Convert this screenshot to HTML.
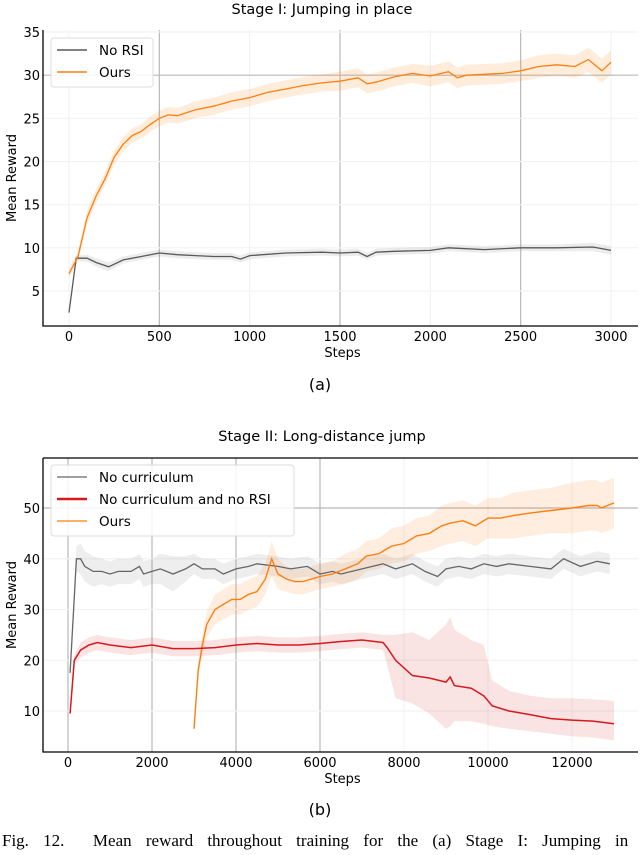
<!DOCTYPE html>
<html><head><meta charset="utf-8">
<style>
body{margin:0;background:#fff;width:640px;height:855px;overflow:hidden;position:relative;font-family:"DejaVu Sans","Liberation Sans",sans-serif}
svg{position:absolute;left:0;top:0}
.cap{position:absolute;left:2px;top:831px;font-family:"Liberation Serif",serif;font-size:17px;white-space:nowrap;word-spacing:10px}
</style></head><body>
<svg id="chart" width="640" height="855" xmlns="http://www.w3.org/2000/svg"></svg>
<div class="cap">Fig. 12.&nbsp;&nbsp;Mean reward throughout training for the (a) Stage I: Jumping in</div>
<script>
// ---- Chart A data ----
const aX = [0,50,100,150,200,250,300,350,400,450,500,550,600,700,800,900,1000,1100,1200,1300,1400,1500,1600,1650,1700,1800,1900,2000,2100,2150,2200,2300,2400,2500,2600,2700,2800,2875,2950,3000];
const aOurs = [7,9,13.5,16,18,20.5,22,23,23.5,24.3,25,25.4,25.3,26,26.4,27,27.4,28,28.4,28.8,29.1,29.3,29.7,29,29.2,29.8,30.2,29.9,30.4,29.7,30,30.1,30.2,30.5,31,31.2,31,31.8,30.5,31.5];
const aOursBand = [0.5,0.6,0.8,0.8,0.8,0.8,0.8,0.8,0.8,0.9,0.9,0.9,0.9,1,1,1,1,1,1,1,1,1.1,1.1,1.1,1.1,1.1,1.1,1.2,1.2,1.2,1.2,1.2,1.2,1.2,1.3,1.3,1.3,1.4,1.4,1.4];
const aNoX = [0,40,100,150,220,300,400,500,600,700,800,900,950,1000,1200,1400,1500,1600,1650,1700,1800,2000,2100,2300,2500,2700,2900,3000];
const aNo = [2.5,8.8,8.8,8.3,7.8,8.6,9,9.4,9.2,9.1,9.0,9.0,8.7,9.1,9.4,9.5,9.4,9.5,9.0,9.5,9.6,9.7,10,9.8,10,10,10.1,9.7];
const aNoBand = [0.2,0.3,0.4,0.5,0.5,0.4,0.4,0.4,0.4,0.4,0.4,0.4,0.4,0.4,0.4,0.4,0.4,0.4,0.4,0.4,0.4,0.4,0.4,0.4,0.4,0.4,0.5,0.5];
const aXTicks = [0,500,1000,1500,2000,2500,3000];
const aYTicks = [5,10,15,20,25,30,35];
// ---- Chart B data ----
const bNcX = [50,200,300,400,600,800,1000,1200,1500,1700,1800,2000,2200,2500,2800,3000,3200,3500,3700,4000,4300,4500,5000,5300,5700,6000,6300,6500,7000,7500,7800,8200,8500,8800,9000,9300,9600,9900,10200,10500,11000,11500,11800,12200,12600,12900];
const bNc = [17.5,40,40,38.5,37.5,37.5,37,37.5,37.5,38.5,37,37.5,38,37,38,39,38,38,37,38,38.5,39,38.5,38,38.5,37,37.5,37,38,39,38,39,37.5,36.5,38,38.5,38,39,38.5,39,38.5,38,40,38.5,39.5,39];
const bNcBand = [1,2.5,3,3,3,2.5,2.5,2.5,2.5,2.5,2.5,2.5,3,3.5,2.5,2,2,2,2,2,2,2,2,2,2,2,2,2,2,2,2,2,2,2,2,2,2,2,2,2,2,2,2,2,2,2];
const bRedX = [50,150,300,500,700,1000,1500,2000,2500,3000,3500,4000,4500,5000,5500,6000,6500,7000,7500,7600,7800,8200,8600,9000,9100,9200,9600,9900,10100,10500,11000,11500,12000,12500,13000];
const bRed = [9.5,20,22,23,23.5,23,22.5,23,22.3,22.3,22.5,23,23.3,23,23,23.3,23.7,24,23.5,22.5,20,17,16.5,15.7,16.7,15,14.5,13,11,10,9.3,8.5,8.2,8,7.5];
const bRedHi = [10,21,23.5,24.5,25,24.5,24,24.5,23.8,23.8,24,24.5,24.8,24.5,24.5,24.8,25.2,25.5,25,25,25,25.5,24,27,28.5,26,24,23,16,14,13,12.5,12.5,12.3,12];
const bRedLo = [9,19,20.5,21.5,22,21.5,21,21.5,20.8,20.8,21,21.5,21.8,21.5,21.5,21.8,22.2,22.5,22,19,12.5,11.5,9.5,6.5,7,8,8,7.5,7,6.5,6,5.5,5,4.8,4.2];
const bOursX = [3000,3100,3200,3300,3500,3700,3900,4100,4300,4500,4700,4850,5000,5200,5400,5600,5800,6000,6300,6600,6900,7100,7400,7700,8000,8300,8600,8900,9100,9400,9700,10000,10300,10600,11000,11500,12000,12400,12600,12700,13000];
const bOurs = [6.5,18,23,27,30,31,32,32,33,33.5,36,40,37,36,35.5,35.5,36,36.5,37,38,39,40.5,41,42.5,43,44.5,45,46.5,47,47.5,46.5,48,48,48.5,49,49.5,50,50.5,50.5,50,51];
const bOursBand = [0.5,1.5,2,2.5,3,3,3,3,3,3,3,3.5,3,2.5,2.5,2.5,2.5,2.5,2.5,3,3,3,3,3.5,3.5,3.5,3.5,4,4,4,4,4,4,4.5,4.5,4.5,5,5,5,5,5];
const bXTicks = [0,2000,4000,6000,8000,10000,12000];
const bYTicks = [10,20,30,40,50];

const NS='http://www.w3.org/2000/svg';
const svg=document.getElementById('chart');
function mk(tag,attrs,parent){const e=document.createElementNS(NS,tag);for(const k in attrs)e.setAttribute(k,attrs[k]);(parent||svg).appendChild(e);return e;}
function txt(x,y,s,size,anchor,parent,rot){const t=mk('text',{x:x,y:y,'font-size':size,'text-anchor':anchor||'middle',fill:'#000','font-family':'DejaVu Sans, Liberation Sans, sans-serif'},parent);if(rot)t.setAttribute('transform',rot);t.textContent=s;return t;}

function chart(c){
  const g=mk('g',{});
  
  
  const sx=v=>c.x0px+(v-c.x0)*(c.x1px-c.x0px)/(c.x1-c.x0);
  const sy=v=>c.y0px+(v-c.y0)*(c.y1px-c.y0px)/(c.y1-c.y0);
  c.xt.forEach(v=>{const l=mk('line',{x1:sx(v),x2:sx(v),y1:c.top,y2:c.bot,stroke:c.xStrong.includes(v)?'#b8b8b8':'#f2f2f2','stroke-width':1.2},g);
    });
  c.yt.forEach(v=>{const l=mk('line',{x1:c.left,x2:c.right,y1:sy(v),y2:sy(v),stroke:c.yStrong.includes(v)?'#b8b8b8':'#f2f2f2','stroke-width':1.2},g);
    });
  c.series.forEach(s=>{
    let d='';
    s.x.forEach((v,i)=>{d+=(i?'L':'M')+sx(v).toFixed(1)+','+sy(s.hi[i]).toFixed(1);});
    for(let i=s.x.length-1;i>=0;i--)d+='L'+sx(s.x[i]).toFixed(1)+','+sy(s.lo[i]).toFixed(1);
    const b=mk('path',{d:d+'Z',fill:s.band,stroke:'none'},g);
    
  });
  c.series.forEach(s=>{
    const pts=s.x.map((v,i)=>sx(v).toFixed(1)+','+sy(s.y[i]).toFixed(1)).join(' ');
    const p=mk('polyline',{points:pts,fill:'none',stroke:s.color,'stroke-width':s.w},g);
    
  });
  const ax=mk('path',{d:`M${c.left},${c.top}V${c.bot}H${c.right}`,fill:'none',stroke:'#000','stroke-width':1.3},g);
  
  if(c.topSpine){const t=mk('line',{x1:c.left,x2:c.right,y1:c.top,y2:c.top,stroke:'#000','stroke-width':1.3},g);
    }
  c.xt.forEach(v=>{const t=txt(sx(v),c.bot+15,String(v),13,'middle',g);});
  c.yt.forEach(v=>{const t=txt(c.left-3,sy(v)+5,String(v),13,'end',g);});
  let t=txt((c.left+c.right)/2+2,c.bot+31,'Steps',13,'middle',g);
  t=txt(16,(c.top+c.bot)/2,'Mean Reward',13,'middle',g,`rotate(-90 16 ${(c.top+c.bot)/2})`);
  t=txt(322,c.titleY,c.title,14.5,'middle',g);
  t=txt(320,c.subY,c.sub,16,'middle',g);
  const L=c.legend;
  const lg=mk('g',{},g);
  mk('rect',{x:L.x,y:L.y,width:L.w,height:L.h,rx:3,fill:'#fff','fill-opacity':0.85,stroke:'#ddd'},lg);
  c.series.slice().sort((a,b)=>a.li-b.li).forEach((s,i)=>{
    const yy=L.y+12+i*22;
    const e=mk('g',{},lg);
    mk('line',{x1:L.x+6,x2:L.x+36,y1:yy,y2:yy,stroke:s.color,'stroke-width':s.lw},e);
    txt(L.x+48,yy+5,s.label,13.5,'start',e);
  });
}
const band=(y,b,s)=>y.map((v,i)=>v+s*b[i]);
chart({name:'chart-stage-1',x0:0,x1:3000,x0px:69,x1px:611,y0:5,y1:35,y0px:291,y1px:32,left:43,right:638,top:30,bot:326,
  xt:aXTicks,yt:aYTicks,xStrong:[500,1500,2500],yStrong:[30],titleY:14,title:'Stage I: Jumping in place',subY:390,sub:'(a)',topSpine:false,
  legend:{x:51,y:38,w:102,h:49},
  series:[
    {id:'no-rsi',label:'No RSI',x:aNoX,y:aNo,hi:band(aNo,aNoBand,1),lo:band(aNo,aNoBand,-1),color:'#595959',band:'rgba(150,150,150,0.18)',w:1.3,lw:1.5,li:0},
    {id:'ours',label:'Ours',x:aX,y:aOurs,hi:band(aOurs,aOursBand,1),lo:band(aOurs,aOursBand,-1),color:'#ff7f0e',band:'rgba(255,127,14,0.15)',w:1.3,lw:1.5,li:1}
  ]});
chart({name:'chart-stage-2',x0:0,x1:12000,x0px:68,x1px:572,y0:10,y1:50,y0px:711,y1px:508,left:43,right:638,top:458,bot:752,
  xt:bXTicks,yt:bYTicks,xStrong:[0,2000,4000,6000],yStrong:[50],titleY:441,title:'Stage II: Long-distance jump',subY:815,sub:'(b)',topSpine:true,
  legend:{x:51,y:465,w:243,h:71},
  series:[
    {id:'no-curriculum',label:'No curriculum',x:bNcX,y:bNc,hi:band(bNc,bNcBand,1),lo:band(bNc,bNcBand,-1),color:'#666',band:'rgba(150,150,150,0.16)',w:1.3,lw:1.2,li:0},
    {id:'ours-stage2',label:'Ours',x:bOursX,y:bOurs,hi:band(bOurs,bOursBand,1),lo:band(bOurs,bOursBand,-1),color:'#ff7f0e',band:'rgba(255,127,14,0.13)',w:1.4,lw:1.2,li:2},
    {id:'no-curriculum-no-rsi',label:'No curriculum and no RSI',x:bRedX,y:bRed,hi:bRedHi,lo:bRedLo,color:'#d7191c',band:'rgba(215,25,28,0.12)',w:1.5,lw:2.5,li:1}
  ]});
</script>
</body></html>
